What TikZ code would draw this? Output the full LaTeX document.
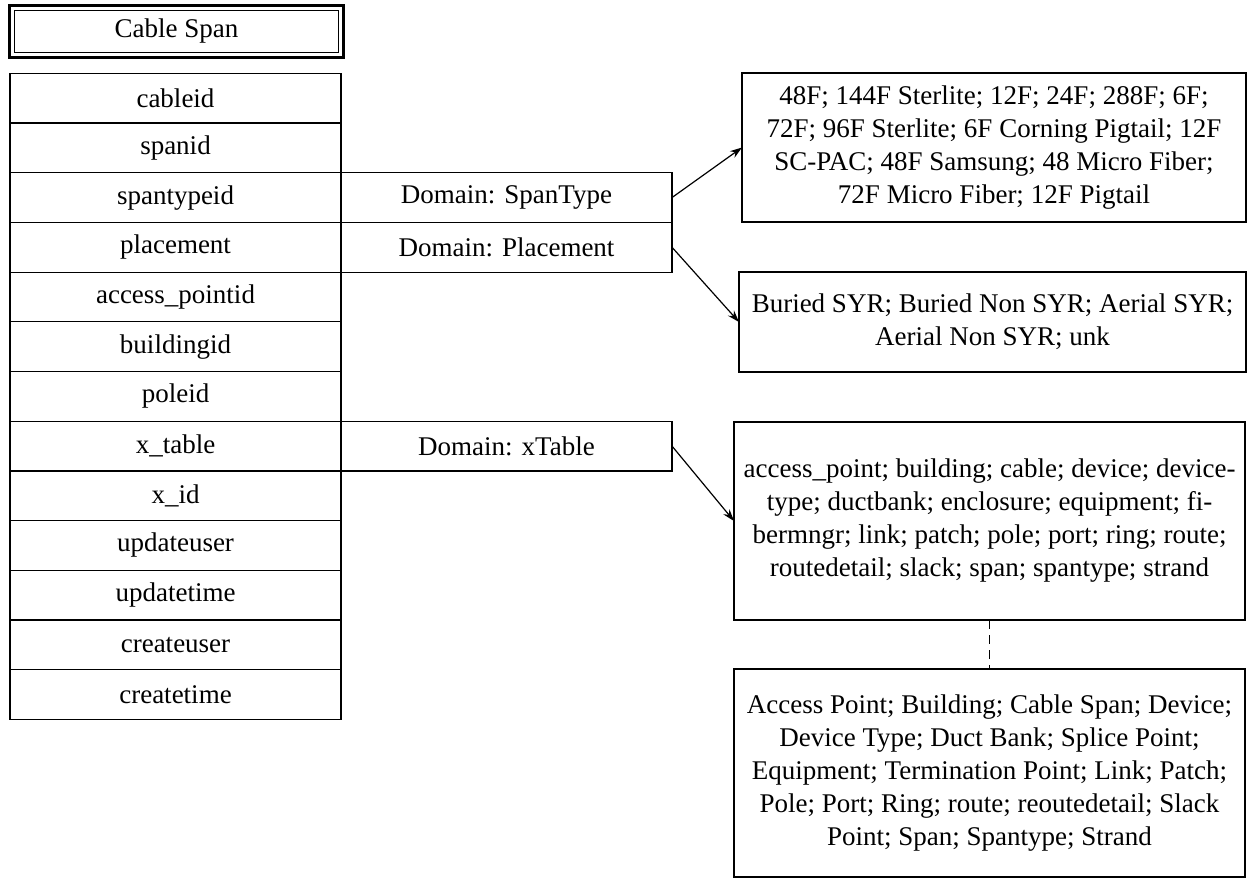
\documentclass[tikz,border=0pt]{standalone}
\usepackage{fontspec}
\setmainfont{Liberation Serif}[Ligatures=CommonOff]
\usetikzlibrary{positioning,arrows.meta}

\begin{document}
\begin{tikzpicture}[x=0.5pt,y=-0.5pt,>={Stealth[length=6pt,width=4pt]},
  font=\fontsize{13.5}{16.5}\selectfont,
  field/.style={draw,line width=0.6pt,outer sep=0pt,inner sep=0pt,minimum width=165.5pt,minimum height=24.85pt},
  domainbox/.style={field},
  valuebox/.style={draw,line width=0.6pt,outer sep=0pt,inner sep=0pt,align=center}]
\useasboundingbox (0,0) rectangle (1259,878);
% table head
\node[draw,line width=1.5pt,outer sep=0pt,minimum width=167pt,minimum height=26pt] (title) at (176.5,31.5) {Cable Span};
\draw[line width=0.5pt] ([shift={(2.5pt,-2.5pt)}]title.north west) rectangle ([shift={(-2.5pt,2.5pt)}]title.south east);
% fields
\node[field] (cableid) at (175.5,98.15) {cableid};
\node[field,below=0pt of cableid] (spanid) {spanid};
\node[field,below=0pt of spanid] (spantypeid) {spantypeid};
\node[field,below=0pt of spantypeid] (placement) {placement};
\node[field,below=0pt of placement] (accesspointid) {access\_pointid};
\node[field,below=0pt of accesspointid] (buildingid) {buildingid};
\node[field,below=0pt of buildingid] (poleid) {poleid};
\node[field,below=0pt of poleid] (xtable) {x\_table};
\node[field,below=0pt of xtable] (xid) {x\_id};
\node[field,below=0pt of xid] (updateuser) {updateuser};
\node[field,below=0pt of updateuser] (updatetime) {updatetime};
\node[field,below=0pt of updatetime] (createuser) {createuser};
\node[field,below=0pt of createuser] (createtime) {createtime};
% domains
\node[domainbox,right=0pt of spantypeid] (dspantype) {Domain: SpanType};
\node[domainbox,right=0pt of placement] (dplacement) {Domain: Placement};
\node[domainbox,right=0pt of xtable] (dxtable) {Domain: xTable};
% coded values
\node[valuebox,minimum width=252pt,minimum height=74.5pt] (vspantype) at (994,147.5)
  {48F; 144F Sterlite; 12F; 24F; 288F; 6F;\\72F; 96F Sterlite; 6F Corning Pigtail; 12F\\SC-PAC; 48F Samsung; 48 Micro Fiber;\\72F Micro Fiber; 12F Pigtail};
\node[valuebox,minimum width=253.5pt,minimum height=50pt] (vplacement) at (992.5,322)
  {Buried SYR; Buried Non SYR; Aerial SYR;\\Aerial Non SYR; unk};
\node[valuebox,minimum width=255.5pt,minimum height=99pt] (vxtable) at (989.5,521)
  {access\_point; building; cable; device; device-\\type; ductbank; enclosure; equipment; fi-\\bermngr; link; patch; pole; port; ring; route;\\routedetail; slack; span; spantype; strand};
\node[valuebox,minimum width=255.5pt,minimum height=104pt] (vxtablelabel) at (989.5,773)
  {Access Point; Building; Cable Span; Device;\\Device Type; Duct Bank; Splice Point;\\Equipment; Termination Point; Link; Patch;\\Pole; Port; Ring; route; reoutedetail; Slack\\Point; Span; Spantype; Strand};
\draw[->,line width=0.6pt] (dspantype.east) -- (vspantype.west);
\draw[->,line width=0.6pt] (dplacement.east) -- (vplacement.west);
\draw[->,line width=0.6pt] (dxtable.east) -- (vxtable.west);
\draw[line width=0.6pt,dash pattern=on 4.5pt off 3pt] (vxtable.south) -- (vxtablelabel.north);
\end{tikzpicture}
\end{document}
